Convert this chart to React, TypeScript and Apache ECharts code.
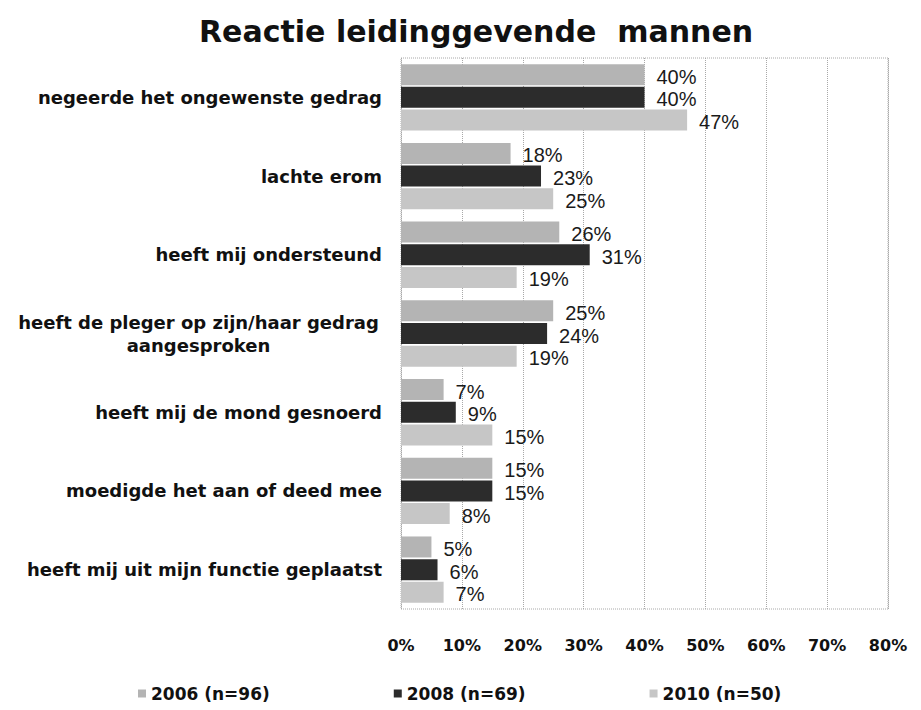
import React, { useEffect, useRef } from "react";
import * as echarts from "echarts";

const categories = [
  "negeerde het ongewenste gedrag",
  "lachte erom",
  "heeft mij ondersteund",
  "heeft de pleger op zijn/haar gedrag\naangesproken",
  "heeft mij de mond gesnoerd",
  "moedigde het aan of deed mee",
  "heeft mij uit mijn functie geplaatst",
];
const seriesNames = ["2006 (n=96)", "2008 (n=69)", "2010 (n=50)"];
const values2006 = [40, 18, 26, 25, 7, 15, 5];
const values2008 = [40, 23, 31, 24, 9, 15, 6];
const values2010 = [47, 25, 19, 19, 15, 8, 7];
const xTicks = { min: 0, max: 80, interval: 10 };

const colors = ["#b4b4b4", "#2c2c2c", "#c6c6c6"];
const FONT = "DejaVu Sans";

export default function App() {
  const ref = useRef<HTMLDivElement>(null);
  useEffect(() => {
    if (!ref.current) return;
    const chart = echarts.init(ref.current, undefined, { renderer: "svg" });
    const allValues = [values2006, values2008, values2010];
    const labelStyle = {
      show: true,
      position: "right",
      distance: 12,
      offset: [0, 2],
      formatter: "{c}%",
      fontFamily: "Liberation Sans",
      fontSize: 20,
      color: "#1a1a1a",
    };
    chart.setOption({
      animation: false,
      backgroundColor: "#ffffff",
      title: {
        text: "Reactie leidinggevende  mannen",
        left: 186,
        top: 3,
        textStyle: {
          fontFamily: FONT,
          fontSize: 30,
          fontWeight: "bold",
          color: "#111",
        },
      },
      legend: {
        data: seriesNames,
        left: 125,
        top: 672,
        itemWidth: 8,
        itemHeight: 8,
        itemGap: 124,
        icon: "rect",
        textStyle: {
          fontFamily: FONT,
          fontSize: 17,
          fontWeight: "bold",
          color: "#111",
        },
      },
      grid: {
        left: 393,
        right: 25,
        top: 50,
        bottom: 93,
        show: true,
        borderColor: "#a8a8a8",
        borderWidth: 1,
        borderType: "dotted",
      },
      xAxis: {
        type: "value",
        min: xTicks.min,
        max: xTicks.max,
        interval: xTicks.interval,
        axisLine: { show: false },
        axisTick: { show: false },
        splitLine: { show: true, lineStyle: { color: "#a8a8a8", type: "dotted" } },
        axisLabel: {
          formatter: "{value}%",
          margin: 28,
          fontFamily: FONT,
          fontSize: 16,
          fontWeight: "bold",
          color: "#111",
        },
      },
      yAxis: {
        type: "category",
        inverse: true,
        data: categories,
        axisLine: { show: false },
        axisTick: { show: false },
        axisLabel: {
          margin: 19,
          fontFamily: FONT,
          fontSize: 18,
          fontWeight: "bold",
          color: "#111",
          lineHeight: 23,
          formatter: (v: string) =>
            v.includes("\n")
              ? v
                  .split("\n")
                  .map((s) => `{c|${s}}`)
                  .join("\n")
              : v,
          rich: {
            c: {
              width: 367,
              align: "center",
              fontFamily: FONT,
              fontSize: 18,
              fontWeight: "bold",
              color: "#111",
              lineHeight: 23,
            },
          },
        },
      },
      series: seriesNames.map((name, i) => ({
        name,
        type: "bar",
        data: allValues[i],
        barWidth: 21,
        barGap: "8%",
        itemStyle: { color: colors[i] },
        label: labelStyle,
      })),
    });
    return () => chart.dispose();
  }, []);
  return <div ref={ref} style={{ width: 905, height: 694 }} />;
}
